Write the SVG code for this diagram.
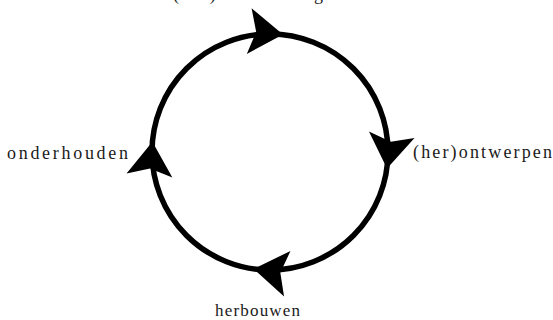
<svg xmlns="http://www.w3.org/2000/svg" width="553" height="320" viewBox="0 0 553 320">
  <style>
    .lbl { font-family: "Liberation Serif", "Times New Roman", serif; fill: #1a1a1a; }
    .ring { fill: none; stroke: #000; stroke-width: 5.5; }
    .head { fill: #000; }
  </style>
  <defs>
    <path id="ah" d="M0,0 L-34,-23 L-27,0 L-34,23 Z"/>
  </defs>
  <rect width="553" height="320" fill="#fff"/>
  <g id="connectors">
    <circle class="ring" cx="270" cy="152" r="118"/>
    <use href="#ah" class="head" transform="translate(283,34.6) rotate(6)"/>
    <use href="#ah" class="head" transform="translate(387,168.4) rotate(98)"/>
    <use href="#ah" class="head" transform="translate(253.6,269) rotate(188)"/>
    <use href="#ah" class="head" transform="translate(152.4,141.7) rotate(275)"/>
  </g>
  <g id="node-top">
    <text class="lbl" x="173" y="0" font-size="18" textLength="150" lengthAdjust="spacing">(her)bestemming</text>
  </g>
  <g id="node-right">
    <text class="lbl" x="413" y="158" font-size="18" textLength="139" lengthAdjust="spacing">(her)ontwerpen</text>
  </g>
  <g id="node-bottom">
    <text class="lbl" x="215" y="316" font-size="17" textLength="85" lengthAdjust="spacing">herbouwen</text>
  </g>
  <g id="node-left">
    <text class="lbl" x="7" y="159" font-size="18" textLength="121" lengthAdjust="spacing">onderhouden</text>
  </g>
</svg>
